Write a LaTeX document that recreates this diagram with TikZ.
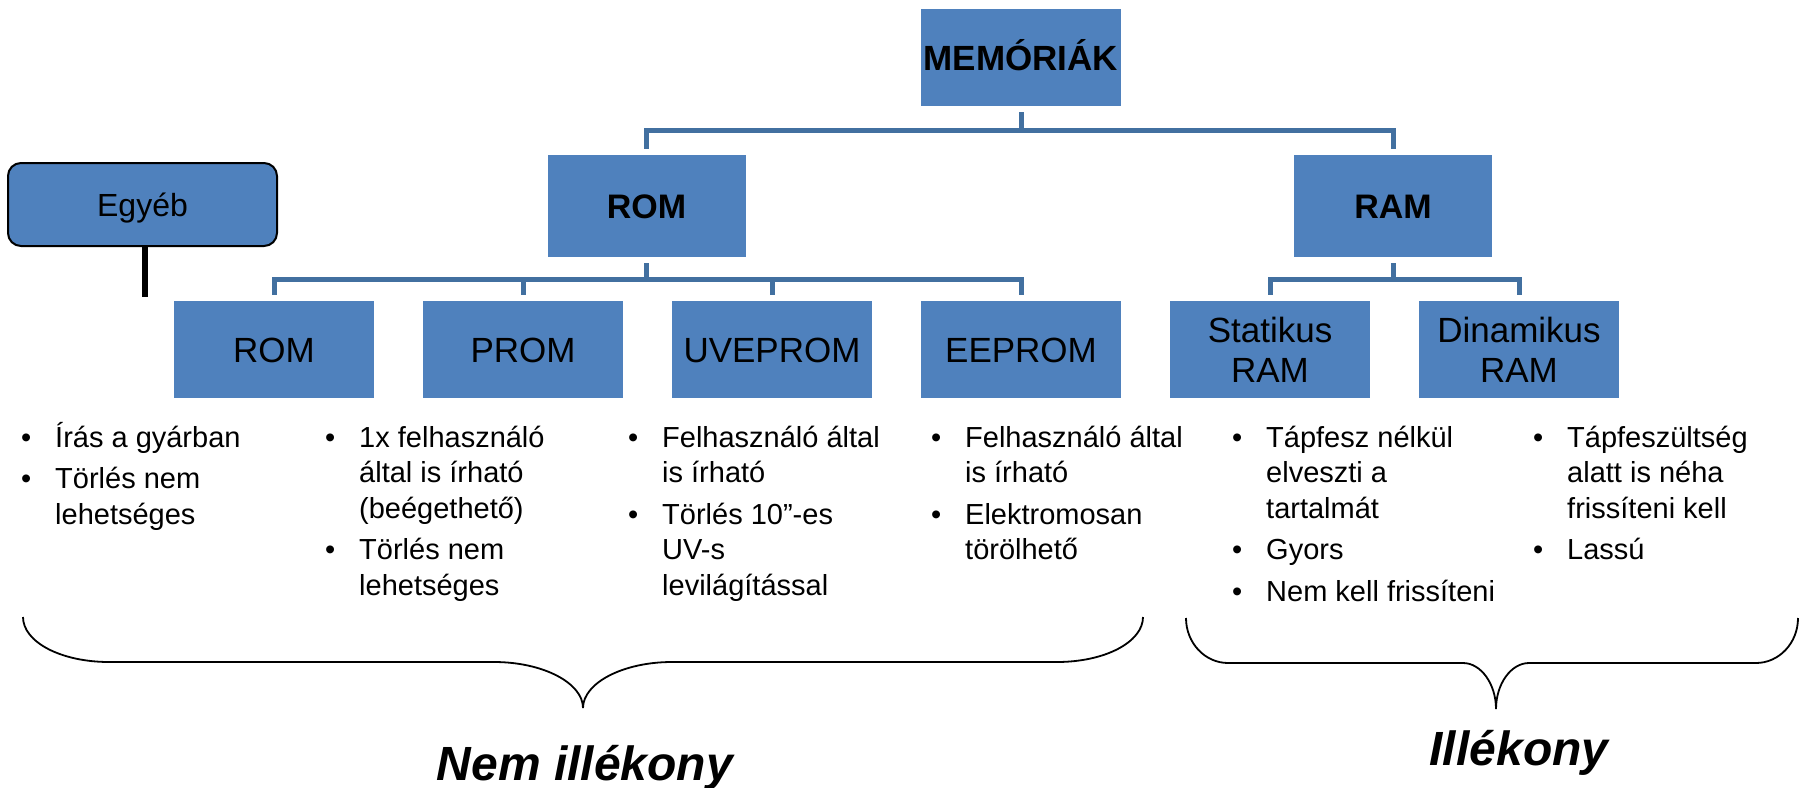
\documentclass[tikz,border=0pt]{standalone}
\usepackage{fontspec}
\setmainfont{Liberation Sans}
\usetikzlibrary{calc}

\definecolor{boxblue}{RGB}{79,129,189}
\definecolor{linkblue}{RGB}{66,112,160}

% one bullet point with a hanging indent; lines inside it are broken with \newline
\newcommand{\bitem}[1]{\par\hangindent=34pt\hangafter=1\noindent\makebox[34pt][l]{\textbullet}#1\parskip=6pt\relax}
% a column of bullet points, first baseline at the node's anchor
\newcommand{\bulletcol}[1]{\parbox[t]{280pt}{\fontsize{29pt}{35.5pt}\selectfont\raggedright\parskip=0pt\parindent=0pt #1}}

\begin{document}
\begin{tikzpicture}[x=1pt,y=-1pt,
  lvlone/.style={fill=boxblue, minimum width=198pt, minimum height=102pt, inner sep=0pt,
    text height=25pt, text depth=0pt, font=\fontsize{34pt}{40pt}\selectfont\bfseries},
  lvltwo/.style={fill=boxblue, minimum width=200pt, minimum height=97pt, inner sep=0pt,
    align=center, font=\fontsize{35pt}{40pt}\selectfont},
  oneline/.style={text height=25pt, text depth=0pt},
  conn/.style={draw=linkblue, line width=5pt},
  listcol/.style={anchor=base west, inner sep=0pt},
  brace/.style={draw=black, line width=1.8pt},
  verdict/.style={anchor=base, inner sep=0pt, font=\fontsize{48pt}{56pt}\selectfont\bfseries\itshape}]

\useasboundingbox (0,0) rectangle (1801,787);

% hierarchy boxes
\node[lvlone, minimum width=200pt, minimum height=97pt, font=\fontsize{35pt}{40pt}\selectfont\bfseries] (mem) at (1021,57.5) {MEMÓRIÁK};
\node[lvlone] (rom1) at (646.5,206) {ROM};
\node[lvlone] (ram1) at (1393,206) {RAM};

\node[lvltwo, oneline] (rom2) at (274,349.5) {ROM};
\node[lvltwo, oneline] (prom) at (523,349.5) {PROM};
\node[lvltwo, oneline] (uveprom) at (772,349.5) {UVEPROM};
\node[lvltwo, oneline] (eeprom) at (1021,349.5) {EEPROM};
\node[lvltwo] (sram) at (1270,349.5) {Statikus\\RAM};
\node[lvltwo] (dram) at (1519,349.5) {Dinamikus\\RAM};

% elbow connectors between levels
\foreach \c in {rom1,ram1}
  \draw[conn] ([yshift=-6pt]mem.south) |- ($(mem.south)!0.5!(\c.north)$) -| ([yshift=6pt]\c.north);
\foreach \c in {rom2,prom,uveprom,eeprom}
  \draw[conn] ([yshift=-6pt]rom1.south) |- ($(rom1.south)!0.5!(\c.north)$) -| ([yshift=6pt]\c.north);
\foreach \c in {sram,dram}
  \draw[conn] ([yshift=-6pt]ram1.south) |- ($(ram1.south)!0.5!(\c.north)$) -| ([yshift=6pt]\c.north);

% side box
\node[draw=black, line width=2pt, fill=boxblue, rounded corners=13pt, minimum width=269pt,
  minimum height=83pt, inner sep=0pt, text height=23pt, text depth=0pt,
  font=\fontsize{32pt}{36pt}\selectfont] (egy) at (142.5,204.5) {Egyéb};
\coordinate (egystem) at (145,297);
\draw[line width=5.3pt] (egy.south -| egystem) -- (egystem);

% properties
\node[listcol] (t1) at (21,447) {\bulletcol{\bitem{Írás a gyárban}\bitem{Törlés nem\newline lehetséges}}};
\node[listcol] (t2) at (325,447) {\bulletcol{\bitem{1x felhasználó\newline által is írható\newline (beégethető)}\bitem{Törlés nem\newline lehetséges}}};
\node[listcol] (t3) at (628,447) {\bulletcol{\bitem{Felhasználó által\newline is írható}\bitem{Törlés 10”-es\newline UV-s\newline levilágítással}}};
\node[listcol] (t4) at (931,447) {\bulletcol{\bitem{Felhasználó által\newline is írható}\bitem{Elektromosan\newline törölhető}}};
\node[listcol] (t5) at (1232,447) {\bulletcol{\bitem{Tápfesz nélkül\newline elveszti a\newline tartalmát}\bitem{Gyors}\bitem{Nem kell frissíteni}}};
\node[listcol] (t6) at (1533,447) {\bulletcol{\bitem{Tápfeszültség\newline alatt is néha\newline frissíteni kell}\bitem{Lassú}}};

% grouping braces
\draw[brace] (23,617) .. controls (23,642) and (61,662) .. (109,662) -- (494,662)
  .. controls (543,662) and (583,683) .. (583,708)
  .. controls (583,683) and (623,662) .. (672,662) -- (1057,662)
  .. controls (1105,662) and (1143,642) .. (1143,617);
\draw[brace] (1186,618) .. controls (1186,643) and (1205,663) .. (1228,663) -- (1463,663)
  .. controls (1481,663) and (1496,684) .. (1496,709)
  .. controls (1496,684) and (1511,663) .. (1529,663) -- (1756,663)
  .. controls (1779,663) and (1798,643) .. (1798,618);

\node[verdict] (nv) at (585,780) {Nem illékony};
\node[verdict] (v) at (1519,765) {Illékony};
\end{tikzpicture}
\end{document}
